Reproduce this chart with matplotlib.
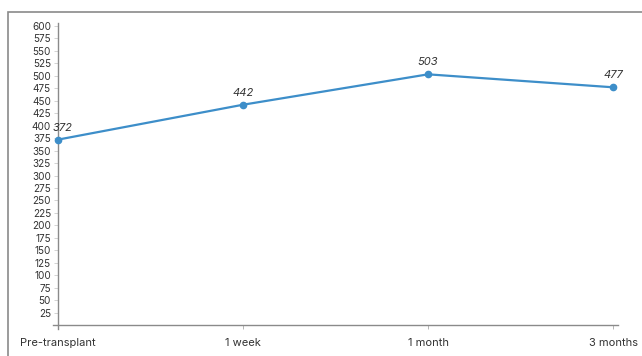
import matplotlib
matplotlib.use("Agg")
import matplotlib.pyplot as plt
from matplotlib.patches import Rectangle

timepoints = ["Pre-transplant", "1 week", "1 month", "3 months"]
values = [372, 442, 503, 477]
y_ticks = list(range(25, 601, 25))

plt.rcParams["font.family"] = ["Inter", "DejaVu Sans"]

fig = plt.figure(figsize=(6.42, 3.56), dpi=100)
ax = fig.add_axes([53 / 642, 27 / 356, 565 / 642, 306 / 356])

# outer frame of the screenshot
fig.patches.append(Rectangle((8 / 642, -0.1), 1.2, 0.1 + (1 - 12 / 356),
                             transform=fig.transFigure, fill=False,
                             edgecolor="#8a8a8a", linewidth=1.2))

x = list(range(len(timepoints)))
ax.plot(x, values, color="#3d8ec9", linewidth=1.6, marker="o", markersize=4.5,
        clip_on=False, zorder=3)
for xi, v in zip(x, values):
    dx = 3 if xi == 0 else 0
    ax.annotate(str(v), (xi, v), xytext=(dx, 5), textcoords="offset points",
                ha="center", va="bottom", fontsize=8, fontstyle="italic",
                color="#333333")

ax.set_xlim(-0.027, 3.027)
ax.set_ylim(-8, 606)
ax.spines["left"].set_position(("data", 0))
ax.spines["bottom"].set_position(("data", 0))
for side in ("top", "right"):
    ax.spines[side].set_visible(False)
for side in ("left", "bottom"):
    ax.spines[side].set_color("#8a8a8a")
    ax.spines[side].set_linewidth(1.0)

ax.set_xticks(x)
ax.set_xticklabels(timepoints)
ax.set_yticks(y_ticks)
ax.tick_params(axis="y", length=3, width=0.6, color="#cccccc", pad=2,
               labelsize=7.2, labelcolor="#333333")
ax.tick_params(axis="x", length=3, width=0.6, color="#aaaaaa", pad=6,
               labelsize=8, labelcolor="#333333")

fig.savefig("out.png", dpi=100)
